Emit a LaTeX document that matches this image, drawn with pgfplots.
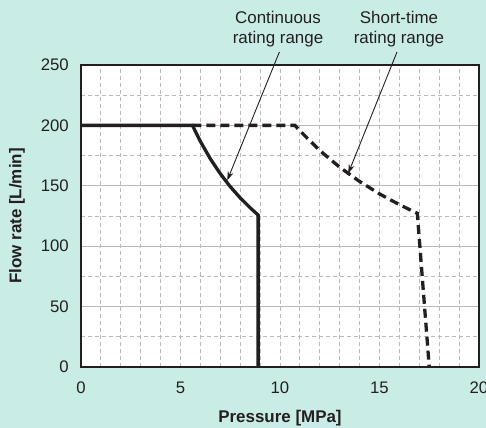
\documentclass[border=0pt]{standalone}
\usepackage{pgfplots}
\pgfplotsset{compat=1.18}
\usepackage{fontspec}
\setmainfont{Liberation Sans}
\usetikzlibrary{arrows.meta}
\definecolor{bg}{RGB}{201,236,231}
\definecolor{ink}{RGB}{35,31,32}
\definecolor{gridc}{RGB}{185,185,185}
\begin{document}
\begin{tikzpicture}
\fill[bg] (-81bp,-61bp) rectangle (405bp,367bp);
\useasboundingbox (-81bp,-61bp) rectangle (405bp,367bp);
\begin{axis}[
  at={(0,0)}, anchor=south west,
  width=398bp, height=302bp, scale only axis,
  xmin=0, xmax=20, ymin=0, ymax=250,
  xtick={0,5,10,15,20}, xticklabels={0,5,10,15,20},
  ytick={0,50,100,150,200,250}, yticklabels={0,50,100,150,200,250},
  minor xtick={1,2,3,4,5,6,7,8,9,10,11,12,13,14,15,16,17,18,19},
  minor ytick={25,75,125,175,225},
  xmajorgrids=false, xminorgrids=true,
  ymajorgrids=true, yminorgrids=true,
  major grid style={gridc, line width=0.9bp},
  minor grid style={gridc, line width=0.9bp, dash pattern=on 4bp off 3bp},
  major tick length=0pt, minor tick length=0pt,
  axis line style={ink, line width=2.5bp},
  axis background/.style={fill=white},
  clip=false,
  xticklabel style={anchor=center, yshift=-21bp, inner sep=0pt, font=\fontsize{16.8}{18}\selectfont, text=ink},
  yticklabel style={anchor=east, xshift=-12bp, inner sep=0pt, font=\fontsize{16.8}{18}\selectfont, text=ink},
  xlabel={Pressure [MPa]},
  ylabel={Flow rate [L/min]},
  xlabel style={at={(axis description cs:0.5,-0.1689)}, anchor=center, font=\bfseries\fontsize{17}{19}\selectfont, text=ink},
  ylabel style={at={(axis description cs:-0.1608,0.5)}, anchor=center, rotate=0, font=\bfseries\fontsize{17}{19}\selectfont, text=ink},
]
% Short-time rating range (dashed)
\addplot[ink, line width=3.3bp, dash pattern=on 9bp off 5bp, line join=miter] coordinates {
  (5.6,200) (10.75,200) (11,195.5) (12,179.2) (13,165.4) (14,153.6)
  (15,143.3) (16,134.4) (16.9,127.2) (17.5,0)
};
% Continuous rating range (solid)
\addplot[ink, line width=3.3bp, line join=miter] coordinates {
  (0,200) (5.6,200) (6.0,186.7) (6.5,172.3) (7.0,160.0) (7.5,149.3)
  (8.0,140.0) (8.5,131.8) (8.9,125.8) (8.9,0)
};
% annotations
\node[anchor=base, font=\fontsize{17}{19}\selectfont, text=ink, inner sep=0pt] at (axis cs:9.9,284) {Continuous};
\node[anchor=base, font=\fontsize{17}{19}\selectfont, text=ink, inner sep=0pt] at (axis cs:9.9,268.2) {rating range};
\node[anchor=base, font=\fontsize{17}{19}\selectfont, text=ink, inner sep=0pt] at (axis cs:15.98,284) {Short-time};
\node[anchor=base, font=\fontsize{17}{19}\selectfont, text=ink, inner sep=0pt] at (axis cs:15.98,268.2) {rating range};
\draw[ink, line width=0.9bp, -{Stealth[length=9bp,width=6bp]}] (axis cs:9.97,260.8) -- (axis cs:7.35,154.5);
\draw[ink, line width=0.9bp, -{Stealth[length=9bp,width=6bp]}] (axis cs:15.88,260.8) -- (axis cs:13.43,160.3);
\end{axis}
\end{tikzpicture}
\end{document}
